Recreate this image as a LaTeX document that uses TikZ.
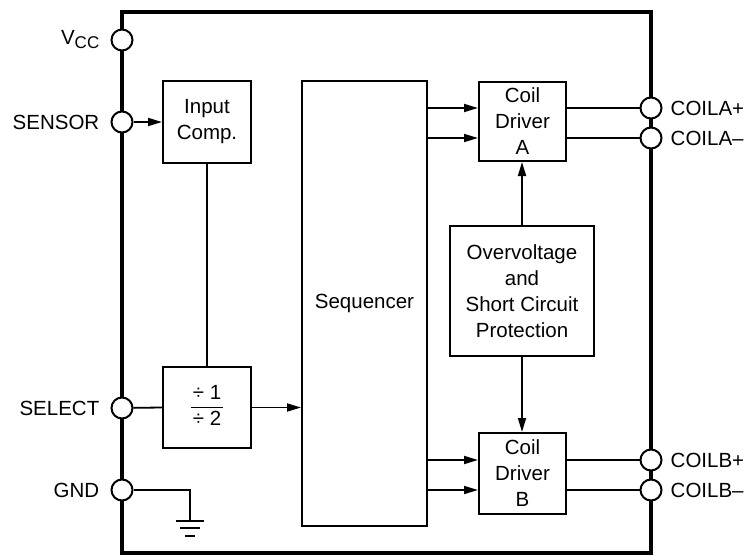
\documentclass[tikz,border=0pt]{standalone}
\usepackage{fontspec}
\setmainfont{Liberation Sans}
\usetikzlibrary{arrows.meta, calc, positioning}

\begin{document}
\begin{tikzpicture}[
    x=1pt, y=-1pt,
    >={Triangle[length=14pt,width=8pt]},
    wire/.style={line width=1.8pt},
    block/.style={rectangle, draw, line width=2pt, align=center, inner sep=2pt,
                  font=\fontsize{20.5}{26}\selectfont},
    pin/.style={circle, draw, line width=2pt, fill=white, minimum size=21pt,
                inner sep=0pt},
    lbl/.style={inner sep=1pt, font=\fontsize{20.5}{24}\selectfont},
]
\useasboundingbox (0,0) rectangle (751,556);
% package outline
\draw[line width=4pt] (122,12) rectangle (651,553);
% pins on the left
\node[pin] (vcc)    at (122,40)  {};
\node[pin] (sensor) at (122,122) {};
\node[pin] (select) at (122,408) {};
\node[pin] (gnd)    at (122,490) {};
\node[lbl, left=10pt of vcc]
    {V\raisebox{-4pt}{\fontsize{17}{17}\selectfont CC}};
\node[lbl, left=10pt of sensor] {SENSOR};
\node[lbl, left=10pt of select] {SELECT};
\node[lbl, left=10pt of gnd]    {GND};
% pins on the right
\node[pin] (coilAp) at (651,108) {};
\node[pin] (coilAm) at (651,138) {};
\node[pin] (coilBp) at (651,460) {};
\node[pin] (coilBm) at (651,490) {};
\node[lbl, right=7pt of coilAp] {COILA+};
\node[lbl, right=7pt of coilAm] {COILA–};
\node[lbl, right=7pt of coilBp] {COILB+};
\node[lbl, right=7pt of coilBm] {COILB–};
% function blocks
\node[block, minimum width=88pt, minimum height=82pt] (incomp) at (207,122)
    {Input\\Comp.};
\node[block, minimum width=88pt, minimum height=81pt] (divider) at (207,407.5)
    {\setlength{\arrayrulewidth}{1.5pt}\setlength{\tabcolsep}{2pt}%
     \renewcommand{\arraystretch}{0.95}%
     \begin{tabular}{c}÷ 1\\\hline ÷ 2\end{tabular}};
\node[block, minimum width=125pt, minimum height=445pt] (seq) at (364.5,303.5)
    {Sequencer};
\node[block, minimum width=87pt, minimum height=79pt] (drvA) at (522.5,121.5)
    {Coil\\Driver\\A};
\node[block, minimum width=87pt, minimum height=81pt] (drvB) at (522.5,473.5)
    {Coil\\Driver\\B};
\node[block, minimum width=144pt, minimum height=130pt] (prot) at (522,291)
    {Overvoltage\\and\\Short Circuit\\Protection};
% signal path
\draw[wire, ->] (sensor) -- (incomp.west);
\draw[wire] (incomp.south) -- (incomp.south |- divider.north);
\draw[wire] (select) -- (divider.west);
\draw[wire, ->] (divider.east) -- (divider.east -| seq.west);
\foreach \p/\d in {coilAp/drvA, coilAm/drvA, coilBp/drvB, coilBm/drvB} {
  \draw[wire, ->] (seq.east |- \p) -- (\d.west |- \p);
  \draw[wire] (\d.east |- \p) -- (\p);
}
\draw[wire, ->] (prot.north) -- (prot.north |- drvA.south);
\draw[wire, ->] (prot.south) -- (prot.south |- drvB.north);
% ground
\coordinate (gndtap) at (190,521);
\draw[wire] (gnd) -- (gnd -| gndtap) -- (gndtap);
\draw[wire] ($(gndtap)+(-14,0)$) -- ($(gndtap)+(14,0)$);
\draw[wire] ($(gndtap)+(-10,7)$) -- ($(gndtap)+(10,7)$);
\draw[wire] ($(gndtap)+(-5,15)$) -- ($(gndtap)+(5,15)$);
\end{tikzpicture}
\end{document}
